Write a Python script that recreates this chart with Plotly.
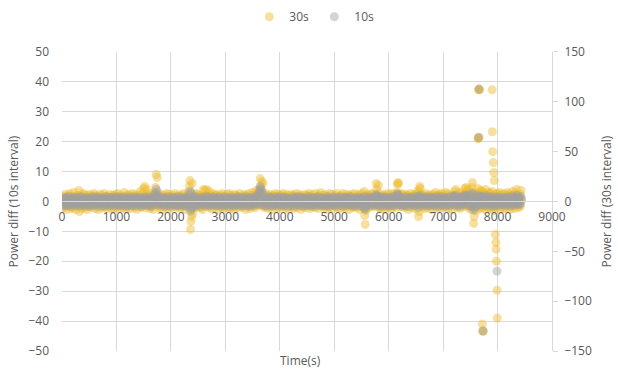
import plotly.graph_objects as go

# ---------------- data ----------------
SAMPLE_STEP_S = 10  # both series are sampled every 10 s

# 30 s-interval power difference (right axis units), one value per 10 s sample from t=0
p30 = [
    3,-2,5,-6,1, 7,-4,2,-8,4, 0,-5,6,-3,8, -1,-7,3,5,-4, 2,-6,9,-2,1, -8,4,6,-3,0,
    -4,11,-10,6,-2, 5,-7,3,8,-5, 1,-3,7,-6,2, 4,-8,0,6,-2, -5,3,7,-4,1, 5,-6,2,-1,8,
    -3,6,-7,2,5, -1,4,-8,3,0, 7,-5,1,-2,6, -6,3,8,-4,2, 0,-7,5,-3,4, 1,-5,7,-2,-6,
    4,-1,6,-8,2, 5,-3,0,7,-6, 3,-2,8,-4,1, -7,5,2,-5,6, -1,3,-6,4,9, -3,0,-8,5,2,
    -5,7,1,-3,6, -7,2,4,-1,8, -4,0,5,-6,3, 7,-2,-8,4,1, -3,6,-5,2,10, -1,-6,3,8,-4,
    13,-2,15,4,-6, 12,1,-4,7,-3, 5,-7,2,8,-1, -5,6,3,-8,4, 9,-3,14,27,6, 24,-4,2,-6,5,
    -2,7,-5,3,1, -8,6,0,-3,5, 2,-6,8,-1,4, -4,7,-2,3,-7, 1,5,-3,6,-5, 0,8,-4,2,-1,
    3,-6,5,1,-4, 7,-2,-7,4,0, 6,-3,2,-5,8, -1,4,-8,3,6, -4,1,9,-6,15, 21,-28,-20,-15,18,
    -12,6,-3,4,-7, 2,8,-1,-5,3, 7,-4,0,6,-2, -6,5,1,-8,4, 12,-3,11,6,-5, 2,12,-2,7,-4,
    10,-6,3,-1,5, -7,2,8,-3,0, 4,-5,6,-2,7, -8,1,3,-4,5, -1,6,-6,2,8, -3,4,-7,1,-2,
    5,-3,7,-6,2, 0,-4,8,1,-7, 3,6,-2,4,-5, 1,-8,7,-1,3, 6,-4,2,-6,5, -2,8,0,-3,4,
    -6,2,5,-1,7, -4,3,-8,6,0, -2,4,-5,8,1, -7,3,6,-3,2, 9,-5,1,-2,7, -6,4,11,-4,3,
    6,-3,12,9,23, 15,-4,20,7,18, 2,-6,5,-2,8, -5,3,-1,6,-7, 4,1,-4,7,-3, 2,-8,5,0,6,
    -4,3,8,-2,5, -6,1,-3,7,0, -7,4,2,-5,6, -1,8,-4,3,-2, 5,-6,1,7,-3, 4,-8,2,6,-1,
    3,-5,7,0,-2, 6,-7,4,1,-3, 8,-1,-6,5,2, -4,7,-2,3,-8, 0,6,-5,1,4, -3,7,-6,2,5,
    -2,6,-4,8,1, -7,3,5,-1,-5, 7,2,-3,4,-6, 0,8,-2,5,-4, 3,-7,1,6,-3, 9,-1,-5,4,2,
    6,-3,0,7,-5, 2,-8,4,1,-2, 5,-6,8,-1,3, -4,7,0,-7,2, 4,-3,6,-5,1, 8,-2,3,-6,5,
    -1,4,-7,6,2, -3,8,-5,1,5, -2,-6,3,7,-4, 0,6,-8,2,-1, 5,-3,7,-6,4, 1,-5,8,-2,3,
    -6,5,2,-3,7, -1,4,-8,6,0, 3,-5,8,-2,-7, 10,-14,-23,-9,5, -4,7,1,-6,3, 6,-2,-5,8,2,
    -3,7,-5,1,4, 6,-1,18,12,-4, 3,16,-6,8,2, -7,5,0,-3,6, 4,-8,1,7,-2, 5,-4,3,-6,8,
    2,-5,6,-2,4, -7,3,8,-1,5, -4,1,7,-6,2, 9,17,19,18,-3, 6,-5,3,8,-2, 0,7,-4,5,-6,
    4,-2,7,-5,1, 6,-8,3,-1,5, 8,-3,2,-6,4, -1,7,-4,6,-7, 3,5,-2,8,11, -15,-10,15,13,-4,
    7,-5,2,6,-3, 1,-7,8,4,-2, -6,5,3,-1,7, -4,2,6,-8,0, 5,-3,7,1,-5, 4,9,-2,6,-6,
    -3,6,2,-7,5, 8,-1,-4,3,7, -6,1,4,-2,9, -5,6,-3,2,8, -7,4,1,-4,6, 3,-8,7,-1,5,
    6,-4,10,12,-2, 5,-6,3,8,-1, 4,-7,2,9,-3, 6,1,-5,7,-2, 13,8,14,-4,11, 3,-6,12,7,-3,
    5,-8,9,14,19, -6,-22,-15,7,-2, 4,-9,8,-5,13, 6,-3,9,-7,11, 2,-6,10,-4,8, -2,5,-8,12,3,
    -5,7,2,-6,9, 4,-3,8,-7,1, 10,-4,6,-2,-9, 5,3,-6,8,-1, 7,-5,2,9,-3, 6,-8,4,-2,7,
    3,-6,8,-2,5, -7,1,6,-4,9, 2,-3,7,-8,4, 0,6,-5,10,-1, 3,-7,5,8,-4, 12,-2,6,-6,4,
    -3,7,-5,11,2,
]

# isolated large 30 s readings (time s, right axis units)
spike30_t = [7640, 7650, 7660, 7650, 7660, 7670, 7720, 7730, 7740,
             7900, 7905, 7910, 7920, 7930, 7940, 7960, 7970, 7975, 7980, 7990, 7995]
spike30_v = [63, 64, 64, 112, 113, 112, -123, -130, -130,
             112, 70, 50, 39, 29, 21, -33, -41, -48, -60, -89, -117]

# 10 s-interval power difference (left axis units), one value per 10 s sample from t=0
p10 = [
    0.8,-1.2,0.3,1.4,-0.6,-1.5,0.9,0.1,-0.9,1.2, 0.5,-1.3,1.6,-0.2,-1.0,0.7,1.1,-0.4,-1.6,0.2, 1.3,-0.8,0.4,-1.1,1.5,0.0,-0.5,1.0,-1.4,0.6,
    -0.7,1.3,0.2,-1.5,0.9,-0.1,1.6,-1.0,0.4,-0.3, 1.1,-1.4,0.6,0.0,-0.8,1.4,-0.5,0.8,-1.2,0.3, -1.6,1.0,-0.2,0.7,-0.9,1.5,0.1,-1.3,0.5,1.2,
    0.4,-0.9,1.5,-1.1,0.0,0.9,-1.6,0.6,1.2,-0.3, -1.0,0.2,1.4,-0.7,0.8,-1.3,0.3,1.1,-0.5,-1.5, 0.7,1.6,-0.4,-1.2,0.1,0.9,-0.6,1.3,-1.0,0.5,
    -1.3,0.6,0.1,1.4,-0.8,1.0,-0.2,-1.5,0.8,0.3, 1.6,-0.9,-0.4,1.2,-1.1,0.5,0.0,-1.4,1.3,-0.6, 0.9,-1.2,0.4,1.5,-0.3,-1.0,0.7,0.2,-1.6,1.1,
    1.0,-0.4,-1.3,0.7,1.5,-0.9,0.2,1.2,-1.5,0.5, -0.1,0.9,-1.1,1.6,-0.6,0.3,-1.4,1.0,0.6,-0.8, 1.3,-0.2,-1.0,0.4,0.8,-1.6,1.4,-0.5,0.1,-1.2,
    -0.5,1.2,0.8,-1.1,0.3,1.6,-0.7,-0.2,1.0,-1.4, 0.6,-0.9,1.4,0.1,-1.6,0.9,-0.3,1.1,-1.0,0.4, 2.1,-0.6,2.6,4.1,1.8,3.2,-1.2,0.7,-0.4,1.3,
    0.2,-1.0,1.5,-0.5,0.9,-1.3,0.4,1.2,-0.8,0.0, -1.5,0.7,1.1,-0.2,-1.2,1.6,0.3,-0.7,0.8,-1.6, 1.0,-0.1,-0.9,1.4,0.5,-1.1,0.6,1.3,-0.4,-1.4,
    1.1,-0.6,0.3,-1.4,1.6,0.0,-1.0,0.8,1.3,-0.3, -1.5,0.5,1.0,-0.8,0.2,-1.2,1.4,-0.4,0.7,-1.6, 0.9,1.2,-0.9,0.4,2.2,3.4,-3.2,-2.4,2.8,-1.1,
    -2.0,0.9,-0.2,1.3,-1.1,0.5,1.6,-0.7,-1.4,0.1, 0.8,-1.0,1.2,-0.5,0.4,-1.6,1.1,0.3,-0.8,1.5, -0.3,0.6,-1.3,1.0,0.0,1.4,-0.9,-0.1,1.7,-1.2,
    0.6,-1.4,1.0,0.2,-0.6,1.3,-1.1,0.7,-0.3,1.6, -0.9,0.0,1.2,-1.5,0.5,0.9,-0.2,-1.3,1.4,-0.7, 0.3,1.1,-1.0,0.8,-1.6,0.4,1.5,-0.5,-1.2,0.1,
    -0.8,1.4,-0.1,-1.2,0.9,0.3,-1.6,1.1,0.6,-0.4, 1.5,-1.0,0.2,0.8,-1.3,1.2,-0.6,0.0,-1.5,1.0, 0.5,-0.9,1.6,-0.3,0.7,-1.1,1.3,-0.7,0.4,-1.4,
    1.3,-0.2,-1.5,0.6,1.0,-0.8,0.4,1.6,-1.1,0.1, -0.5,1.2,-1.3,0.9,0.3,-1.6,0.8,-0.4,1.4,-1.0, -0.1,0.7,1.1,-1.2,0.5,-0.7,1.5,2.1,-0.9,0.2,
    1.9,-0.8,2.7,3.6,5.0,4.1,-1.1,3.8,1.2,2.5, -0.6,1.4,-1.3,0.3,0.9,-1.5,0.6,-0.2,1.1,-0.9, 1.6,-0.4,0.0,-1.2,1.3,0.7,-1.6,0.5,1.0,-0.3,
    -1.1,0.4,1.5,-0.6,0.8,-1.4,0.2,1.2,-0.9,0.6, 1.6,-0.1,-1.3,1.0,0.3,-0.8,1.4,-1.5,0.5,-0.2, 0.9,-1.0,1.3,0.1,-0.7,1.1,-1.6,0.7,0.0,-0.5,
    0.7,-1.3,1.1,0.4,-0.9,1.5,-0.2,-1.6,0.9,0.2, -0.7,1.3,-1.1,0.6,1.6,-0.4,0.0,-1.2,1.0,-0.6, 1.4,0.3,-1.5,0.8,-0.1,1.2,-0.8,0.5,-1.4,1.0,
    -0.4,1.0,-1.2,1.6,0.1,-0.8,0.7,-1.5,1.3,0.3, -1.0,0.5,1.1,-0.3,-1.6,0.9,0.2,1.4,-0.7,-1.1, 0.6,1.5,-0.5,0.0,-1.3,0.8,1.2,-0.9,0.4,-1.4,
    1.2,-0.7,0.5,-1.4,1.0,0.2,-1.1,1.6,-0.3,0.8, -1.5,0.4,0.9,-0.8,1.3,-0.2,-1.2,0.6,1.5,-1.0, 0.1,-0.6,1.1,-1.6,0.7,1.4,-0.4,0.3,-0.9,1.0,
    -0.2,1.5,-1.0,0.3,0.8,-1.6,1.1,-0.5,0.6,1.3, -0.9,0.0,1.4,-1.3,0.4,0.9,-0.7,1.2,-1.1,0.2, 1.6,-0.3,-1.4,0.7,1.0,-0.8,0.5,-1.5,1.1,-0.1,
    0.9,-1.1,0.4,1.4,-0.6,0.1,-1.5,1.0,0.7,-0.2, 1.3,-0.9,0.5,-1.6,0.8,1.6,-2.2,-2.6,-1.4,0.3, -0.8,1.2,0.0,-1.2,1.5,0.6,-0.4,1.1,-1.0,0.2,
    -0.9,1.3,0.2,-1.4,0.8,1.0,-0.5,2.4,1.9,-1.1, 0.5,1.7,-1.3,0.9,0.0,-1.6,1.2,0.4,-0.7,1.5, -0.2,-1.0,1.1,0.6,-1.5,0.3,1.4,-0.6,0.8,-1.2,
    1.0,-0.4,1.3,-1.2,0.2,0.7,-1.5,1.6,-0.1,-0.8, 1.1,0.4,-1.3,0.9,-0.6,1.8,2.6,2.3,1.5,-1.0, 0.5,-0.9,1.4,0.0,-1.6,1.2,-0.3,0.6,-1.1,0.8,
    -1.3,0.6,1.5,-0.2,-0.9,1.1,0.3,-1.6,0.8,-0.5, 1.4,-1.0,0.1,1.2,-0.7,0.5,-1.4,1.6,-0.3,0.9, -1.2,0.4,1.0,-0.8,1.7,-2.0,-1.1,2.1,1.3,-0.6,
    0.5,1.2,-1.1,0.0,1.6,-0.7,0.9,-1.4,0.3,1.1, -0.5,-1.2,1.4,0.6,-0.9,0.2,1.5,-1.6,0.7,-0.1, 1.3,-1.0,0.4,0.8,-1.3,1.0,-0.4,1.6,-0.8,0.1,
    -0.6,0.9,-1.5,1.3,0.4,-1.0,1.6,-0.3,-1.2,0.7, 0.0,1.1,-0.8,1.4,-1.6,0.5,0.8,-0.4,1.2,-1.1, 0.3,1.5,-0.7,-1.3,1.0,0.6,-0.2,1.7,-0.9,0.2,
    1.4,-1.2,1.8,2.0,-0.5,0.8,-1.4,0.3,1.1,-0.9, 0.6,-1.6,1.3,1.5,-0.1,0.9,-0.7,-1.1,1.6,0.2, 2.0,1.0,2.2,-0.6,1.7,0.4,-1.3,2.1,0.7,-0.8,
    1.1,-1.5,1.6,2.3,2.8,-1.0,-2.9,-2.1,0.5,-0.4, 0.9,-1.7,1.4,-0.8,2.0,1.2,-0.3,1.6,-1.2,1.8, 0.2,-1.0,1.5,-0.6,1.3,-0.2,0.8,-1.4,1.9,0.4,
    -0.9,1.3,0.3,-1.1,1.6,0.7,-0.5,1.2,-1.5,0.1, 1.7,-0.8,1.0,-0.3,-1.6,0.9,0.4,-1.2,1.4,-0.1, 1.1,-0.9,0.5,1.5,-0.6,1.0,-1.4,0.6,-0.4,1.2,
    0.6,-1.1,1.4,-0.4,0.9,-1.3,0.2,1.1,-0.7,1.6, 0.3,-0.6,1.2,-1.5,0.7,0.0,1.0,-0.9,1.8,-0.2, 0.5,-1.2,0.9,1.4,-0.8,2.0,-0.3,1.1,-1.0,0.7,
    -0.5,1.2,-0.9,1.7,0.4,
]

# isolated large 10 s readings (time s, left axis units)
spike10_t = [7650, 7660, 7730, 7990]
spike10_v = [21.5, 37.5, -43.3, -23.3]

x_ticks = [0, 1000, 2000, 3000, 4000, 5000, 6000, 7000, 8000, 9000]
y_left_ticks = [-50, -40, -30, -20, -10, 0, 10, 20, 30, 40, 50]
y_right_ticks = [-150, -100, -50, 0, 50, 100, 150]

# ---------------- figure ----------------
t30 = [i * SAMPLE_STEP_S for i in range(len(p30))] + spike30_t
v30 = p30 + spike30_v
t10 = [i * SAMPLE_STEP_S for i in range(len(p10))] + spike10_t
v10 = p10 + spike10_v

TXT = "#595959"
GRID = "#D9D9D9"
FONT = "Open Sans"

fig = go.Figure()
fig.add_trace(go.Scatter(
    x=t30, y=v30, name="30s", mode="markers", yaxis="y",
    marker=dict(size=9, color="#EDBB2A", opacity=0.45, line=dict(width=0)),
    hoverinfo="skip",
))
fig.add_trace(go.Scatter(
    x=t10, y=v10, name="10s", mode="markers", yaxis="y2",
    marker=dict(size=9, color="#A0A0A0", opacity=0.45, line=dict(width=0)),
    hoverinfo="skip",
))

fig.update_layout(
    width=618, height=371,
    margin=dict(l=62, r=66, t=47, b=19),
    paper_bgcolor="white", plot_bgcolor="white",
    font=dict(family=FONT, size=12, color=TXT),
    showlegend=True,
    legend=dict(orientation="h", x=0.515, xanchor="center",
                y=0.955, yanchor="middle", yref="container",
                font=dict(size=12, color=TXT), itemwidth=30,
                entrywidth=20, entrywidthmode="pixels",
                tracegroupgap=0),
    xaxis=dict(
        range=[0, 9000], tickvals=x_ticks, ticktext=[str(v) for v in x_ticks],
        showgrid=True, gridcolor=GRID, gridwidth=1,
        anchor="free", position=0.5,
        showline=True, linecolor=GRID, linewidth=1,
        zeroline=False, ticks="", ticklabelstandoff=4,
        tickfont=dict(size=12, color=TXT),
    ),
    yaxis=dict(
        range=[-150, 150], tickvals=y_right_ticks, side="right",
        showgrid=False, zeroline=False,
        showline=True, linecolor=GRID, linewidth=1,
        ticks="outside", ticklen=5, tickcolor=GRID,
        ticklabelstandoff=4,
        tickfont=dict(size=12, color=TXT),
    ),
    yaxis2=dict(
        range=[-50, 50], tickvals=y_left_ticks, side="left", overlaying="y",
        showgrid=True, gridcolor=GRID, gridwidth=1, zeroline=False,
        showline=False, ticks="", ticklabelstandoff=12,
        tickfont=dict(size=12, color=TXT),
    ),
    annotations=[
        dict(text="Power diff (10s interval)", xref="paper", yref="paper",
             x=-0.098, y=0.5, textangle=-90, showarrow=False,
             font=dict(size=12, color=TXT), xanchor="center", yanchor="middle"),
        dict(text="Power diff (30s interval)", xref="paper", yref="paper",
             x=1.112, y=0.5, textangle=-90, showarrow=False,
             font=dict(size=12, color=TXT), xanchor="center", yanchor="middle"),
        dict(text="Time(s)", xref="paper", yref="paper",
             x=0.486, y=-0.033, showarrow=False,
             font=dict(size=12, color=TXT), xanchor="center", yanchor="middle"),
    ],
)

fig.write_html("out.html")
